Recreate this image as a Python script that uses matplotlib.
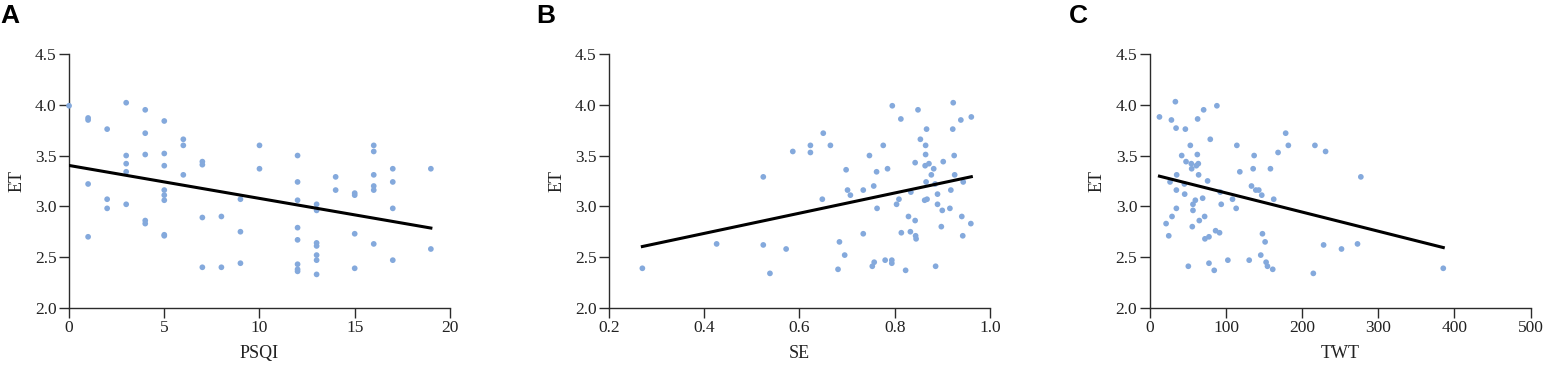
import numpy as np
import matplotlib
matplotlib.use('Agg')
from matplotlib import pyplot as plt

# ET values, paired with each predictor
psqi = [0, 1, 1, 1, 1, 2, 2, 2, 3, 3, 3, 3, 3, 4, 4, 4, 4, 4,
        5, 5, 5, 5, 5, 5, 5, 5, 6, 6, 6, 7, 7, 7, 7, 8, 8, 9, 9, 9, 10, 10,
        12, 12, 12, 12, 12, 12, 12, 12, 13, 13, 13, 13, 13, 13, 13,
        14, 14, 15, 15, 15, 15, 16, 16, 16, 16, 16, 16, 17, 17, 17, 17, 19, 19]
et_psqi = [3.99, 3.87, 3.85, 3.22, 2.70, 3.76, 3.07, 2.98, 4.02, 3.50, 3.42, 3.34, 3.02,
           3.95, 3.72, 3.51, 2.86, 2.83,
           3.84, 3.52, 3.40, 3.16, 3.11, 3.06, 2.72, 2.71, 3.66, 3.60, 3.31,
           3.44, 3.41, 2.89, 2.40, 2.90, 2.40, 3.07, 2.75, 2.44, 3.60, 3.37,
           3.50, 3.24, 3.06, 2.79, 2.67, 2.43, 2.38, 2.36,
           3.02, 2.96, 2.64, 2.61, 2.52, 2.47, 2.33,
           3.29, 3.16, 3.13, 3.11, 2.73, 2.39, 3.60, 3.54, 3.31, 3.20, 3.16, 2.63,
           3.37, 3.24, 2.98, 2.47, 3.37, 2.58]

se = [0.270, 0.426, 0.524, 0.524, 0.538, 0.572, 0.586, 0.623, 0.623, 0.650, 0.648, 0.665,
      0.684, 0.681, 0.695, 0.698, 0.701, 0.707, 0.734, 0.734, 0.747, 0.756, 0.753, 0.757,
      0.762, 0.763, 0.776, 0.780, 0.785, 0.794, 0.794, 0.795, 0.804, 0.809, 0.813, 0.814,
      0.823, 0.829, 0.833, 0.834, 0.843, 0.843, 0.844, 0.845, 0.849, 0.854, 0.863, 0.865,
      0.865, 0.864, 0.866, 0.867, 0.868, 0.872, 0.877, 0.882, 0.885, 0.886, 0.890, 0.890,
      0.900, 0.898, 0.902, 0.916, 0.918, 0.922, 0.923, 0.925, 0.926, 0.939, 0.941, 0.943,
      0.944, 0.960, 0.961]
et_se = [2.39, 2.63, 3.29, 2.62, 2.34, 2.58, 3.54, 3.60, 3.53, 3.72, 3.07, 3.60,
         2.65, 2.38, 2.52, 3.36, 3.16, 3.11, 3.16, 2.73, 3.50, 3.20, 2.41, 2.45,
         3.34, 2.98, 3.60, 2.47, 3.37, 2.47, 2.44, 3.99, 3.02, 3.07, 3.86, 2.74,
         2.37, 2.90, 2.75, 3.14, 3.43, 2.86, 2.71, 2.68, 3.95, 3.66, 3.06, 3.60,
         3.51, 3.40, 3.24, 3.76, 3.07, 3.42, 3.31, 3.37, 3.22, 2.41, 3.12, 3.02,
         2.96, 2.80, 3.44, 2.98, 3.16, 3.76, 4.02, 3.50, 3.31, 3.85, 2.90, 2.71,
         3.24, 2.83, 3.88]

twt = [12.7, 28.4, 34.5, 33.6, 46.7, 21.4, 24.9, 26.6, 29.2, 34.9, 34.9, 35.3, 41.9,
       45.4, 45.8, 47.6, 50.6, 53.2, 54.5, 55.0, 55.8, 56.7, 56.7, 59.8, 61.1, 62.4,
       62.8, 63.7, 64.1, 65.0, 69.4, 70.7, 72.0, 72.4, 75.9, 77.7, 77.7, 79.4, 84.6,
       86.4, 88.1, 91.6, 92.5, 93.8, 102.5, 108.6, 113.4, 114.3, 118.2, 130.5, 133.5,
       135.7, 137.0, 139.2, 143.1, 145.7, 147.0, 147.9, 151.4, 152.7, 154.5, 158.4,
       161.4, 162.7, 168.4, 178.4, 181.9, 214.7, 216.8, 228.2, 230.8, 251.7, 272.7,
       277.1, 385.3]
et_twt = [3.88, 3.85, 3.77, 4.03, 3.76, 2.83, 2.71, 3.24, 2.90, 3.16, 2.98, 3.31, 3.50,
          3.22, 3.12, 3.44, 2.41, 3.60, 3.42, 3.37, 2.80, 2.96, 3.02, 3.06, 3.40, 3.51,
          3.86, 3.42, 3.31, 2.86, 3.08, 3.95, 2.90, 2.68, 3.25, 2.70, 2.44, 3.66, 2.37,
          2.76, 3.99, 2.74, 3.14, 3.02, 2.47, 3.07, 2.98, 3.60, 3.34, 2.47, 3.20,
          3.37, 3.50, 3.16, 3.16, 2.52, 3.11, 2.73, 2.65, 2.45, 2.41, 3.37,
          2.38, 3.07, 3.53, 3.72, 3.60, 2.34, 3.60, 2.62, 3.54, 2.58, 2.63,
          3.29, 2.39]

panels = ['A', 'B', 'C']
xlabels = ['PSQI', 'SE', 'TWT']
xlims = [(0, 20), (0.2, 1.0), (0, 500)]
xticks = [[0, 5, 10, 15, 20], [0.2, 0.4, 0.6, 0.8, 1.0], [0, 100, 200, 300, 400, 500]]
xfmt = ['{:.0f}', '{:.1f}', '{:.0f}']

plt.rcParams['font.family'] = 'Liberation Serif'
dot_col = '#84a9dc'
ax_col = '#2b2b2b'

fig = plt.figure(figsize=(15.45, 3.67), dpi=100)
lefts = [0.0447, 0.3942, 0.7442]
panel_x = [0.0, 0.347, 0.692]

data = [(psqi, et_psqi), (se, et_se), (twt, et_twt)]
for i in range(3):
    ax = fig.add_axes([lefts[i], 0.161, 0.2465, 0.692])
    x = np.array(data[i][0])
    y = np.array(data[i][1])
    ax.scatter(x, y, s=17, color=dot_col, edgecolors='none', zorder=3, clip_on=False)
    # linear regression line over range of data
    k, b = np.polyfit(x, y, 1)
    xx = np.array([x.min(), x.max()])
    ax.plot(xx, k * xx + b, color='black', lw=2.2, zorder=4)

    ax.set_xlim(*xlims[i])
    ax.set_ylim(2.0, 4.5)
    ax.set_xticks(xticks[i])
    ax.set_xticklabels([xfmt[i].format(t) for t in xticks[i]])
    ax.set_yticks([2.0, 2.5, 3.0, 3.5, 4.0, 4.5])
    ax.set_yticklabels(['2.0', '2.5', '3.0', '3.5', '4.0', '4.5'])
    for s in ['top', 'right']:
        ax.spines[s].set_visible(False)
    for s in ['left', 'bottom']:
        ax.spines[s].set_color(ax_col)
        ax.spines[s].set_linewidth(1.0)
    ax.tick_params(direction='out', length=7, width=1.0, color=ax_col,
                   labelsize=12.5, labelcolor='#222222', pad=2)
    ax.set_xlabel(xlabels[i], fontsize=13, color='#222222', labelpad=6)
    ax.set_ylabel('ET', fontsize=13, color='#222222', labelpad=7)
    fig.text(panel_x[i], 0.99, panels[i], fontsize=19, fontweight='bold',
             family='Liberation Sans', va='top', ha='left')

fig.savefig('out.png', dpi=100)
